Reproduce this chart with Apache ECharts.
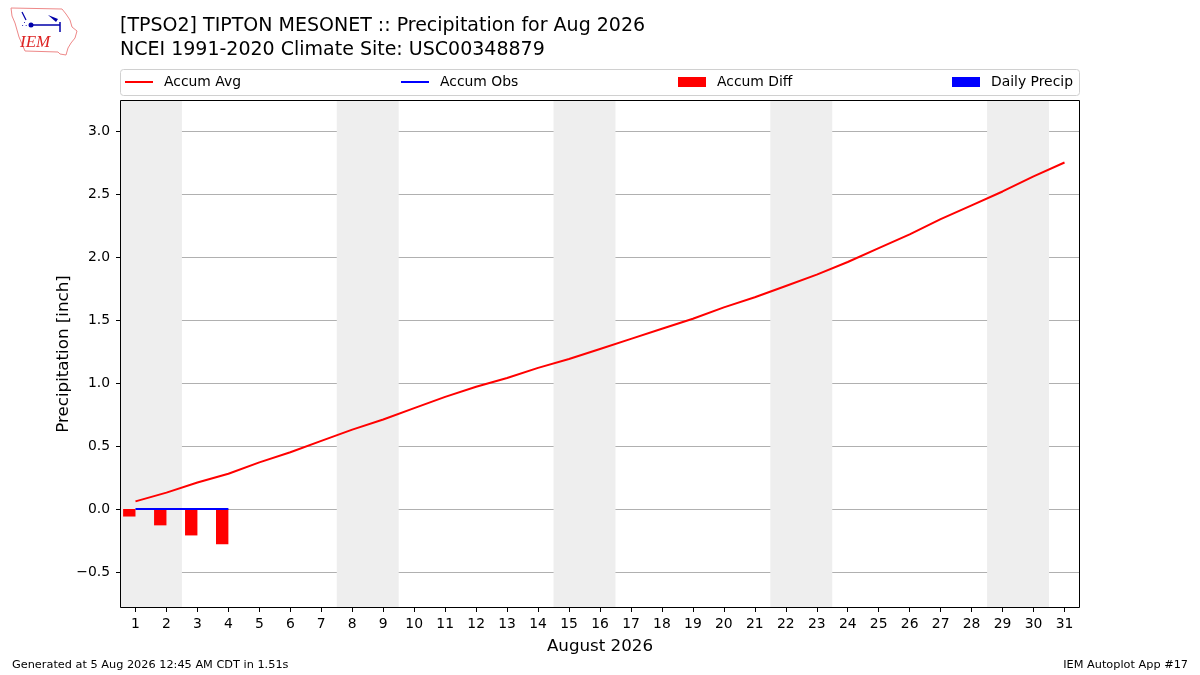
<!DOCTYPE html>
<html>
<head>
<meta charset="utf-8">
<script src="https://cdn.jsdelivr.net/npm/echarts@6/dist/echarts.min.js"></script>
<style>
html,body{margin:0;padding:0;background:#fff;}
#chart{width:1200px;height:675px;}
</style>
</head>
<body>
<div id="chart"></div>
<script>
// ---- data ----
var days = [1,2,3,4,5,6,7,8,9,10,11,12,13,14,15,16,17,18,19,20,21,22,23,24,25,26,27,28,29,30,31];
var accumAvg = [0.06,0.13,0.21,0.28,0.37,0.45,0.54,0.63,0.71,0.80,0.89,0.97,1.04,1.12,1.19,1.27,1.35,1.43,1.51,1.60,1.68,1.77,1.86,1.96,2.07,2.18,2.30,2.41,2.52,2.64,2.75];
var obsDays = [1,2,3,4];
var accumObs = [0.0,0.0,0.0,0.0];
var accumDiff = [-0.06,-0.13,-0.21,-0.28];
var dailyPrecip = [0.0,0.0,0.0,0.0];
var weekendRanges = [[0.5,2.5],[7.5,9.5],[14.5,16.5],[21.5,23.5],[28.5,30.5]];
var yTicks = [-0.5,0.0,0.5,1.0,1.5,2.0,2.5,3.0];
var titleLine1 = '[TPSO2] TIPTON MESONET :: Precipitation for Aug 2026';
var titleLine2 = 'NCEI 1991-2020 Climate Site: USC00348879';

var FONT = 'DejaVu Sans';
var chart = echarts.init(document.getElementById('chart'), null, {renderer:'canvas'});

function pairs(xs, ys){ return xs.map(function(x,i){return [x, ys[i]];}); }

function mkLegend(name, left, isLine, color){
  return {
    data:[{name:name, icon:'rect', itemStyle:{color:color}}],
    left:left, top:75,
    itemWidth:28, itemHeight: isLine ? 2 : 10,
    itemGap:0, padding:0,
    textStyle:{fontFamily:FONT,fontSize:13.9,color:'#000',padding:[0,0,0,6]}
  };
}

var option = {
  backgroundColor:'#fff',
  animation:false,
  textStyle:{fontFamily:FONT},
  grid:{left:120, right:120, top:100, bottom:67, show:false, containLabel:false},
  legend:[
    mkLegend('Accum Avg', 125, true, 'red'),
    mkLegend('Accum Obs', 401, true, 'blue'),
    mkLegend('Accum Diff', 678, false, 'red'),
    mkLegend('Daily Precip', 952, false, 'blue')
  ],
  xAxis:{
    type:'value', min:0.5, max:31.5,
    name:'August 2026', nameLocation:'middle', nameGap:30,
    nameTextStyle:{fontFamily:FONT,fontSize:16.7,color:'#000'},
    axisLine:{show:false,onZero:false},
    axisTick:{show:true, length:4, lineStyle:{color:'#000'}, customValues:days},
    axisLabel:{fontFamily:FONT,fontSize:13.9,color:'#000',margin:9, customValues:days},
    splitLine:{show:false}
  },
  yAxis:{
    type:'value', min:-0.786, max:3.246,
    name:'Precipitation [inch]', nameLocation:'middle', nameGap:48, nameMoveOverlap:false,
    nameTextStyle:{fontFamily:FONT,fontSize:16.7,color:'#000'},
    axisLine:{show:false,onZero:false},
    axisTick:{show:true, length:4, lineStyle:{color:'#000'}, customValues:yTicks},
    axisLabel:{fontFamily:FONT,fontSize:13.9,color:'#000',margin:10, customValues:yTicks,
      formatter:function(v){ return v.toFixed(1).replace('-','\u2212'); }},
    splitLine:{show:true, lineStyle:{color:'#b0b0b0', width:1}}
  },
  series:[
    {
      name:'Accum Avg', type:'line', data:pairs(days, accumAvg), showSymbol:false, symbol:'none',
      lineStyle:{color:'red', width:2}, itemStyle:{color:'red'}, z:5,
      markArea:{silent:true, itemStyle:{color:'#eeeeee'},
        data: weekendRanges.map(function(r){ return [{xAxis:r[0]},{xAxis:r[1]}]; })}
    },
    {
      name:'Accum Obs', type:'line', data:pairs(obsDays, accumObs), showSymbol:false, symbol:'none',
      lineStyle:{color:'blue', width:2}, itemStyle:{color:'blue'}, z:6
    },
    {
      name:'Accum Diff', type:'bar', data:pairs(obsDays, accumDiff), barWidth:'40%', barGap:'0%',
      itemStyle:{color:'red'}, z:4
    },
    {
      name:'Daily Precip', type:'bar', data:pairs(obsDays, dailyPrecip), barWidth:'40%', barGap:'0%',
      itemStyle:{color:'blue'}, z:4
    }
  ],
  graphic:[
    {type:'rect', shape:{x:120.5,y:69.5,width:959,height:26,r:3}, style:{fill:'#fff',stroke:'#d0d0d0',lineWidth:1}, z:-1},
    {type:'rect', shape:{x:120.5,y:100.5,width:959,height:507}, style:{fill:'none',stroke:'#000',lineWidth:1}, z:100},
    {type:'text', left:120, top:17, style:{text:titleLine1, font:'19px "DejaVu Sans"', fill:'#000'}},
    {type:'text', left:120, top:41, style:{text:titleLine2, font:'19px "DejaVu Sans"', fill:'#000'}},
    {type:'text', left:12, top:660, style:{text:'Generated at 5 Aug 2026 12:45 AM CDT in 1.51s', font:'11.3px "DejaVu Sans"', fill:'#000'}},
    {type:'text', right:12, top:660, style:{text:'IEM Autoplot App #17', font:'11.3px "DejaVu Sans"', fill:'#000'}},
    // logo approximation
    {type:'polyline', shape:{points:[[11,8],[62,9],[66,14],[70,20],[72,27],[77,31],[75,38],[71,43],[68,48],[66,55],[60,54],[58,52],[25,51],[22,44],[19,37],[17,30],[15,23],[12,16],[11,8]]},
      style:{stroke:'#e88',lineWidth:1,fill:'none'}},
    {type:'text', left:20, top:34, style:{text:'IEM', font:'italic 17px "Liberation Serif"', fill:'#d22'}},
    {type:'line', shape:{x1:31,y1:25,x2:60,y2:25}, style:{stroke:'#00a',lineWidth:1.5}},
    {type:'circle', shape:{cx:31,cy:25,r:2.5}, style:{fill:'#00a'}},
    {type:'polygon', shape:{points:[[48,15],[58,19],[56,22]]}, style:{fill:'#00a'}},
    {type:'line', shape:{x1:60,y1:22,x2:60,y2:32}, style:{stroke:'#00a',lineWidth:1.5}},
    {type:'line', shape:{x1:22,y1:12,x2:26,y2:20}, style:{stroke:'#00a',lineWidth:1.2}},
    {type:'text', left:22, top:21, style:{text:'∴', font:'8px "DejaVu Sans"', fill:'#00a'}}
  ]
};
chart.setOption(option);
</script>
</body>
</html>
